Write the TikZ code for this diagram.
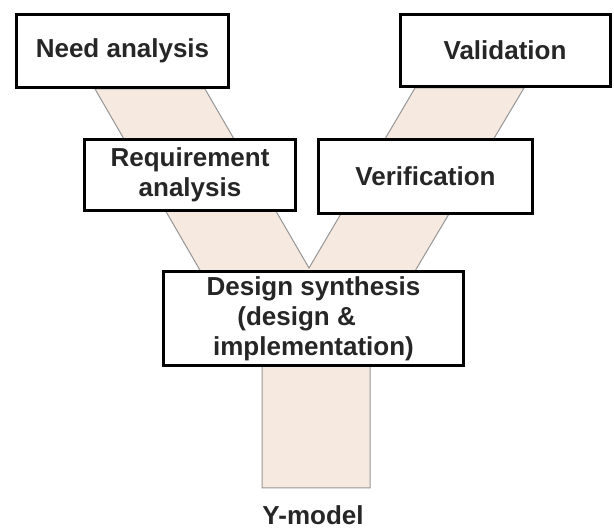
\documentclass[tikz,border=0pt]{standalone}
\usepackage{fontspec}
\setmainfont{Liberation Sans}
\usepackage{tikz}

\definecolor{bandfill}{RGB}{245,233,224}
\definecolor{bandline}{RGB}{150,150,150}

\begin{document}
\begin{tikzpicture}[x=1pt,y=-1pt,
  font=\fontsize{26}{30}\selectfont\bfseries,
  stage/.style={draw=black,line width=3pt,fill=white,text=black!85,
    align=center,inner sep=0pt}]
\useasboundingbox (0,0) rectangle (614,529);
% the Y band
\filldraw[fill=bandfill,draw=bandline,line width=1pt]
  (95,89) -- (205,89) -- (309,268) -- (415,88) -- (524,88) -- (362,360)
  -- (370,360) -- (370,488) -- (262,488) -- (262,360) -- (252,360) -- cycle;
% boxes
\node[stage,minimum width=212,minimum height=73] (need) at (122.5,51) {Need analysis};
\node[stage,minimum width=210,minimum height=72] (valid) at (505,50.5) {Validation};
\node[stage,minimum width=211,minimum height=71] (req) at (190,175) {Requirement\\analysis};
\node[stage,minimum width=214,minimum height=74] (verif) at (425.5,176.5) {Verification};
\node[stage,minimum width=300,minimum height=94] (design) at (313.5,318.5)
  {Design synthesis\\(design \&\hbox to 1.3em{}\\implementation)};
% caption
\node[text=black!85,inner sep=0pt,anchor=base] (title) at (313,525) {Y-model};
\end{tikzpicture}
\end{document}
